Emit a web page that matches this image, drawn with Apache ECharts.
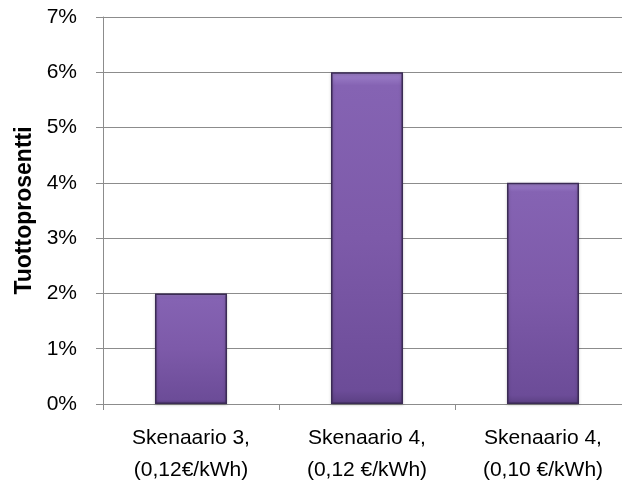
<!DOCTYPE html>
<html><head><meta charset="utf-8">
<script src="https://cdn.jsdelivr.net/npm/echarts@6/dist/echarts.min.js"></script>
<style>html,body{margin:0;padding:0;background:#fff}#c{width:622px;height:486px}</style>
</head><body><div id="c"></div>
<script>
const categories = ["Skenaario 3,\n(0,12€/kWh)", "Skenaario 4,\n(0,12 €/kWh)", "Skenaario 4,\n(0,10 €/kWh)"];
const values = [2, 6, 4];
const yTicks = [0, 1, 2, 3, 4, 5, 6, 7];
const chart = echarts.init(document.getElementById('c'));
const font = "'Liberation Sans', 'DejaVu Sans', sans-serif";
chart.setOption({
  animation: false,
  grid: {left: 103, right: -9, top: 17, bottom: 82, containLabel: false, outerBoundsMode: 'none'},
  xAxis: {
    type: 'category', data: categories,
    axisLine: {lineStyle: {color: '#8c8c8c', width: 1}},
    axisTick: {show: true, length: 6, lineStyle: {color: '#8c8c8c'}},
    axisLabel: {color: '#000', fontSize: 21, fontFamily: font, lineHeight: 32, margin: 18}
  },
  yAxis: {
    type: 'value', min: 0, max: 7, interval: 1,
    name: 'Tuottoprosentti', nameLocation: 'middle', nameGap: 67,
    nameTextStyle: {fontSize: 23, fontWeight: 'bold', fontFamily: font, color: '#000'},
    axisLine: {show: true, lineStyle: {color: '#8c8c8c'}},
    axisTick: {show: true, length: 7, lineStyle: {color: '#8c8c8c'}},
    splitLine: {lineStyle: {color: '#8c8c8c', width: 1}},
    axisLabel: {color: '#000', fontSize: 21, fontFamily: font, margin: 26,
      formatter: v => yTicks.includes(v) ? v + '%' : ''}
  },
  series: [{
    type: 'bar', data: values, barWidth: 72,
    itemStyle: {
      borderColor: '#3b2b55', borderWidth: 1.5,
      color: new echarts.graphic.LinearGradient(0, 0, 0, 1, [
        {offset: 0, color: '#a083cc'},
        {offset: 0.04, color: '#8563b3'},
        {offset: 0.5, color: '#7d5aa9'},
        {offset: 0.96, color: '#6c4c98'},
        {offset: 1, color: '#5a3f82'}
      ]),
      shadowColor: 'rgba(0,0,0,0.25)', shadowBlur: 3, shadowOffsetY: 1
    }
  }]
});
</script></body></html>
